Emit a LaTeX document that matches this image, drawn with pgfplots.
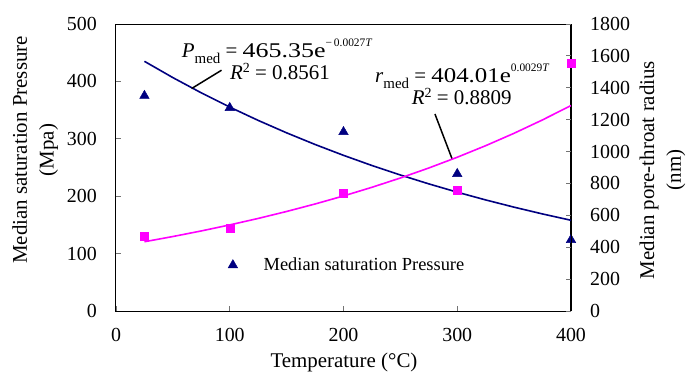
\documentclass[border=0pt]{standalone}
\usepackage{fontspec}
\setmainfont{Liberation Serif}
\usepackage{pgfplots}
\pgfplotsset{compat=1.18}

\definecolor{pnavy}{RGB}{0,0,128}
\definecolor{rmag}{RGB}{255,0,255}

\newcommand{\eqfont}{\fontsize{21}{25}\selectfont}
\newcommand{\subtxt}[1]{\raisebox{-6bp}{\fontsize{15}{17}\selectfont #1}}
\newcommand{\suptxt}[2]{\raisebox{#1}{\fontsize{11.5}{13}\selectfont #2}}
\newcommand{\wide}[2]{\scalebox{#1}[1]{#2}}
\newcommand{\sqtxt}{\raisebox{7bp}{\fontsize{14}{16}\selectfont 2}}

% measured points
\pgfplotstableread{
T    P
25   375
100  354
200  312
300  239
400  124
}\pressure
\pgfplotstableread{
T    r
25   472
100  522
200  736
300  755
400  1556
}\radius
% exponential fits, tabulated every 25 degC
\pgfplotstableread{
T    P
25   434.98
50   406.59
75   380.05
100  355.24
125  332.05
150  310.38
175  290.12
200  271.18
225  253.48
250  236.94
275  221.47
300  207.02
325  193.50
350  180.87
375  169.07
400  158.03
}\pressurefit
\pgfplotstableread{
T    r
25   434.39
50   467.05
75   502.17
100  539.93
125  580.53
150  624.18
175  671.11
200  721.57
225  775.83
250  834.17
275  896.89
300  964.33
325  1036.84
350  1114.81
375  1198.64
400  1288.76
}\radiusfit

\begin{document}
\begin{tikzpicture}
\pgfplotsset{
  twinaxis/.style={
    scale only axis, width=455bp, height=287bp,
    at={(0,0)}, anchor=south west,
    xmin=0, xmax=400,
    tick label style={font=\fontsize{20}{24}\selectfont},
    /pgf/number format/assume math mode=true,
    /pgf/number format/1000 sep={},
    major tick length=5bp,
    tick style={black!55, line width=0.8bp},
    axis line style={line width=1bp},
    label style={font=\fontsize{21}{27}\selectfont, align=center},
  }
}
\begin{axis}[
  twinaxis,
  ymin=0, ymax=500, ytick={0,100,...,500},
  xtick={0,100,...,400},
  xtick pos=bottom, ytick pos=left,
  yticklabel style={anchor=east, inner sep=0pt, xshift=-19bp},
  xticklabel style={anchor=north, inner sep=0pt, yshift=-17bp},
  xlabel={Temperature (°C)},
  xlabel style={at={(axis description cs:0.501,0)}, anchor=base, yshift=-56bp, inner sep=0pt},
  ylabel={Median saturation Pressure\\(Mpa)},
  ylabel style={at={(axis description cs:-0.1775,0.561)}, anchor=center},
  legend style={draw=none, fill=none, inner sep=0pt, at={(0.246,0.160)}, anchor=west,
    font=\fontsize{18.5}{22}\selectfont, nodes={inner sep=0pt},
    /tikz/every odd column/.append style={column sep=26bp}},
  legend image code/.code={\draw[#1] plot coordinates {(0bp,0bp)};},
]
\addplot[pnavy, line width=1.6bp, forget plot] table[x=T, y=P] {\pressurefit};
\addplot[only marks, mark=triangle*, mark size=5.5bp, pnavy] table[x=T, y=P] {\pressure};
\addlegendentry{Median saturation Pressure}

\draw[black, line width=1.5bp] (axis cs:66.5,387.6) -- (axis cs:92.8,419.5);
\draw[black, line width=1.5bp] (axis cs:280.4,343.2) -- (axis cs:295.6,264.3);

\node[anchor=base west, inner sep=0pt, font=\eqfont] at (axis cs:57.8,442.0)
  {\textit{P}\subtxt{med} = \wide{1.24}{465.35e}\suptxt{10.5bp}{−\,0.0027\textit{T}}};
\node[anchor=base west, inner sep=0pt, font=\eqfont] at (axis cs:100.2,403.7)
  {\textit{R}\sqtxt{} = 0.8561};
\node[anchor=base west, inner sep=0pt, font=\eqfont] at (axis cs:227.7,398.4)
  {\textit{r}\subtxt{med} = \wide{1.19}{404.01e}\suptxt{10.5bp}{0.0029\textit{T}}};
\node[anchor=base west, inner sep=0pt, font=\eqfont] at (axis cs:260.0,358.9)
  {\textit{R}\sqtxt{} = 0.8809};
\end{axis}

\begin{axis}[
  twinaxis,
  ymin=0, ymax=1800, ytick={0,200,...,1800},
  axis y line*=right, axis x line=none,
  yticklabel style={anchor=west, inner sep=0pt, xshift=19bp},
  ylabel={Median pore-throat radius\\(nm)},
  ylabel style={at={(axis description cs:1.2011,0.491)}, anchor=center},
]
\addplot[rmag, line width=1.6bp] table[x=T, y=r] {\radiusfit};
\addplot[only marks, mark=square*, mark size=4bp, rmag] table[x=T, y=r] {\radius};
\end{axis}

\pgfresetboundingbox
\path[use as bounding box] (-116bp,-61bp) rectangle (570bp,311bp);
\end{tikzpicture}
\end{document}
